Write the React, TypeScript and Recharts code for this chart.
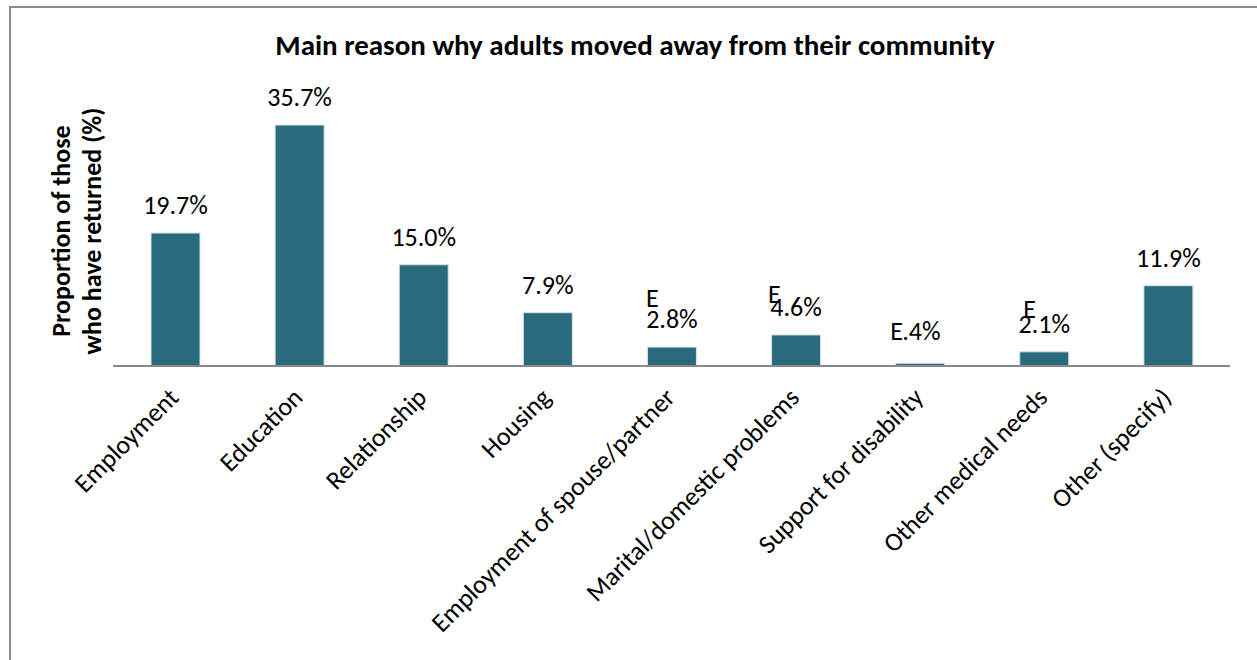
import React from "react";
import { BarChart, Bar, XAxis, YAxis, LabelList } from "recharts";

const categories = [
  "Employment",
  "Education",
  "Relationship",
  "Housing",
  "Employment of spouse/partner",
  "Marital/domestic problems",
  "Support for disability",
  "Other medical needs",
  "Other (specify)",
];
const shares = [19.7, 35.7, 15.0, 7.9, 2.8, 4.6, 0.4, 2.1, 11.9];
// "E" = use with caution flag shown beside the value
const flags = ["", "", "", "", "E", "E", "E", "E", ""];

const data = categories.map((name, i) => ({ name, value: shares[i], flag: flags[i] }));

const FONT = "Carlito, Lato, sans-serif";
const BAR = "#296b7c";

// where the flag sits relative to bar centre / bar top
const flagOffset: Record<number, { dx: number; dy: number }> = {
  4: { dx: -26, dy: -40 },
  5: { dx: -28, dy: -32 },
  6: { dx: -30, dy: -23 },
  7: { dx: -21, dy: -34 },
};

const ValueLabel = (props: any) => {
  const { x, y, width, value, index } = props;
  const cx = Number(x) + Number(width) / 2;
  const top = Number(y);
  const item = data[index];
  const off = flagOffset[index];
  const small = Number(value) < 1;
  const text = small ? `${Number(value).toFixed(1).replace(/^0/, "")}%` : `${Number(value).toFixed(1)}%`;
  return (
    <g>
      {small ? (
        <text x={cx - 18} y={top - 23} textAnchor="start" fontFamily={FONT} fontSize={26} fill="#000">
          {text}
        </text>
      ) : (
        <text x={cx} y={top - 19} textAnchor="middle" fontFamily={FONT} fontSize={26} fill="#000">
          {text}
        </text>
      )}
      {item.flag && off ? (
        <text x={cx + off.dx} y={top + off.dy} textAnchor="start" fontFamily={FONT} fontSize={26} fill="#000">
          {item.flag}
        </text>
      ) : null}
    </g>
  );
};

const CategoryTick = (props: any) => {
  const { x, y, payload } = props;
  return (
    <g transform={`translate(${x + 5},${y + 31})`}>
      <text x={0} y={0} textAnchor="end" transform="rotate(-45)" fontFamily={FONT} fontSize={26} fill="#000">
        {payload.value}
      </text>
    </g>
  );
};

export default function App() {
  return (
    <div style={{ position: "absolute", left: 0, top: 0, width: 1257, height: 660, background: "#fff", overflow: "hidden" }}>
      <div
        style={{
          position: "absolute",
          left: 9,
          top: 6,
          width: 1400,
          height: 800,
          borderLeft: "2px solid #8c8c8c",
          borderTop: "2px solid #8c8c8c",
        }}
      />
      <div
        style={{
          position: "absolute",
          left: 0,
          top: 28,
          width: 1270,
          textAlign: "center",
          fontFamily: FONT,
          fontWeight: 700,
          fontSize: 29,
          lineHeight: "34px",
          color: "#000",
        }}
      >
        Main reason why adults moved away from their community
      </div>
      <div
        style={{
          position: "absolute",
          left: 77 - 150,
          top: 231 - 31,
          width: 300,
          height: 62,
          transform: "rotate(-90deg)",
          textAlign: "center",
          fontFamily: FONT,
          fontWeight: 700,
          fontSize: 26,
          lineHeight: "31px",
          color: "#000",
        }}
      >
        Proportion of those
        <br />
        who have returned (%)
      </div>
      <div style={{ position: "absolute", left: 0, top: 0 }}>
        <BarChart width={1257} height={660} data={data} margin={{ top: 96, right: 27, left: 113, bottom: 0 }}>
          <XAxis
            dataKey="name"
            height={294}
            interval={0}
            tickLine={false}
            tickSize={0}
            axisLine={{ stroke: "#898989", strokeWidth: 2 }}
            tick={<CategoryTick />}
          />
          <YAxis hide domain={[0, 40]} />
          <Bar dataKey="value" fill={BAR} stroke="#d4e3e7" strokeWidth={1} barSize={49} isAnimationActive={false}>
            <LabelList dataKey="value" content={<ValueLabel />} />
          </Bar>
        </BarChart>
      </div>
    </div>
  );
}
